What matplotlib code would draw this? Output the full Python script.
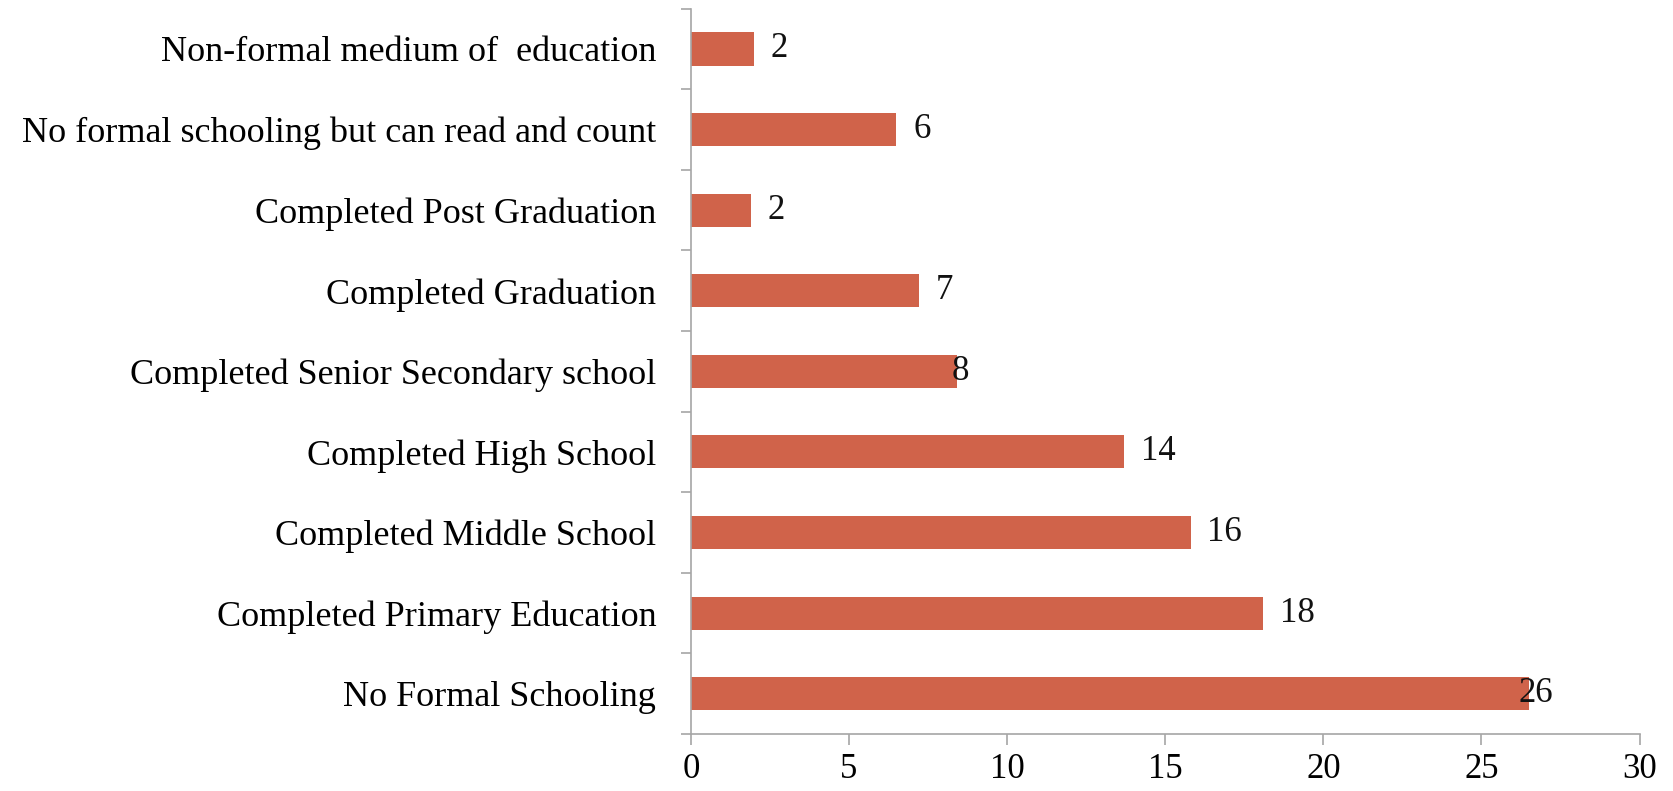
import numpy as np
import matplotlib.pyplot as plt

# education level of respondents (bottom to top)
levels = [
    "No Formal Schooling",
    "Completed Primary Education",
    "Completed Middle School",
    "Completed High School",
    "Completed Senior Secondary school",
    "Completed Graduation",
    "Completed Post Graduation",
    "No formal schooling but can read and count",
    "Non-formal medium of  education",
]
share = [26.5, 18.1, 15.8, 13.7, 8.4, 7.2, 1.9, 6.5, 2.0]

# a couple of labels sit slightly to the left
label_nudge = {0: -0.87, 4: -0.68}

plt.rcParams["font.family"] = ["Liberation Serif", "DejaVu Serif"]

fig = plt.figure(figsize=(16.73, 7.91), dpi=100)
ax = fig.add_axes([0.413, 0.072, 0.567, 0.917])

y = np.arange(len(levels))
ax.barh(y, share, height=0.41, color="#D0634A")

for i, v in enumerate(share):
    ax.text(v + 0.53 + label_nudge.get(i, 0), i, f"{v:.0f}",
            va="center", ha="left", fontsize=25, color="#111111")

ax.set_xlim(0, 30)
ax.set_ylim(-0.5, len(levels) - 0.5)
ax.set_xticks(range(0, 31, 5))

ax.set_yticks(y)
ax.set_yticklabels(levels)
ax.set_yticks(np.arange(-0.5, len(levels), 1.0), minor=True)

ax.tick_params(axis="y", which="major", length=0, pad=25, labelsize=26)
ax.tick_params(axis="y", which="minor", length=7, width=1.2, color="#a6a6a6")
ax.tick_params(axis="x", length=8, width=1.2, color="#a6a6a6", pad=6, labelsize=25)

for s in ["top", "right"]:
    ax.spines[s].set_visible(False)
for s in ["left", "bottom"]:
    ax.spines[s].set_color("#a6a6a6")
    ax.spines[s].set_linewidth(1.2)

plt.savefig("out.png", dpi=100)
